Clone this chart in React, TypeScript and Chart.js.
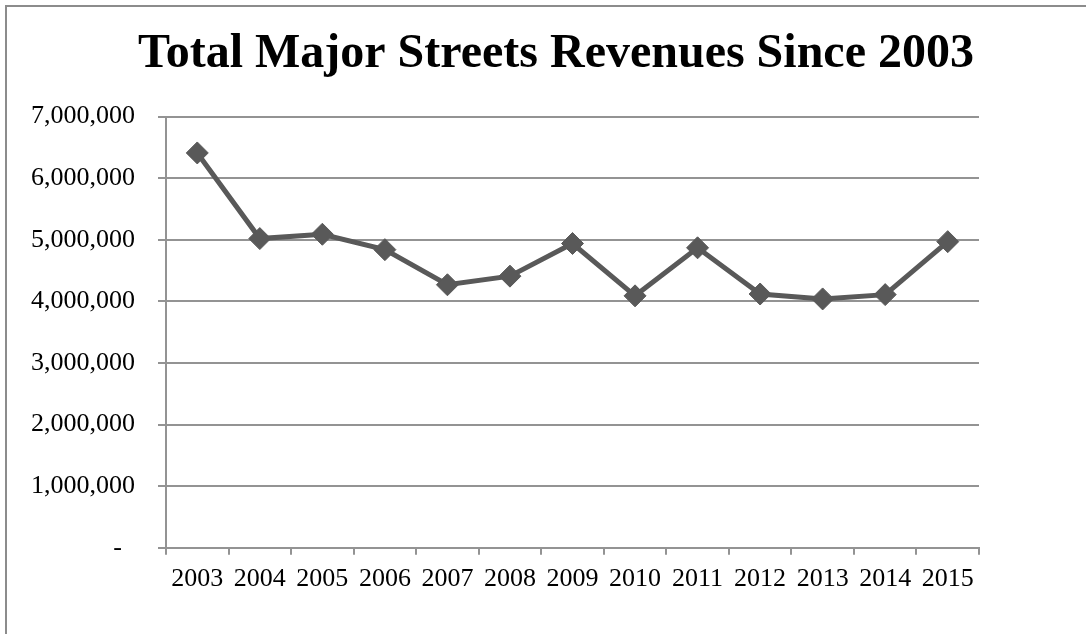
import React, { useEffect, useRef } from 'react';
import { Chart, registerables } from 'chart.js';

Chart.register(...registerables);

const titleText = 'Total Major Streets Revenues Since 2003';
const years = ['2003', '2004', '2005', '2006', '2007', '2008', '2009', '2010', '2011', '2012', '2013', '2014', '2015'];
const revenues = [6410000, 5020000, 5090000, 4840000, 4270000, 4410000, 4940000, 4090000, 4870000, 4120000, 4040000, 4110000, 4970000];
const yMin = 0;
const yMax = 7000000;
const yStep = 1000000;

const FONT = '"Liberation Serif", "Times New Roman", serif';
const GRID = '#939393';
const LINE = '#595959';

export default function App() {
  const ref = useRef<HTMLCanvasElement | null>(null);

  useEffect(() => {
    if (!ref.current) return;
    const chart = new Chart(ref.current, {
      type: 'line',
      data: {
        labels: years,
        datasets: [
          {
            data: revenues,
            yAxisID: 'y',
            borderColor: LINE,
            backgroundColor: LINE,
            borderWidth: 5,
            pointStyle: 'rectRot',
            pointRadius: 11,
            pointBorderWidth: 1,
            pointBackgroundColor: LINE,
            pointBorderColor: LINE,
            tension: 0,
          },
        ],
      },
      options: {
        animation: false,
        responsive: false,
        maintainAspectRatio: false,
        layout: { padding: { left: 26, right: 0, top: 0, bottom: 30 } },
        plugins: {
          legend: { display: false },
          tooltip: { enabled: false },
          title: {
            display: true,
            text: titleText,
            color: '#000',
            font: { family: FONT, size: 48, weight: 'bold' },
            padding: { top: 26, bottom: 33 },
          },
        },
        scales: {
          x: {
            offset: true,
            grid: {
              offset: true,
              drawOnChartArea: false,
              drawTicks: true,
              tickLength: 7,
              color: GRID,
              lineWidth: 2,
            },
            border: { display: true, color: GRID, width: 2 },
            ticks: {
              color: '#000',
              font: { family: FONT, size: 26 },
              padding: 9,
              maxRotation: 0,
              autoSkip: false,
            },
          },
          y: {
            position: 'left',
            min: yMin,
            max: yMax,
            afterFit: (scale: any) => {
              scale.width = 166 - 26;
            },
            grid: {
              color: GRID,
              lineWidth: 2,
              drawTicks: true,
              tickLength: 8,
            },
            border: { display: true, color: GRID, width: 2 },
            ticks: {
              stepSize: yStep,
              color: '#000',
              font: { family: FONT, size: 26 },
              padding: 23,
              callback: (v: any) => (Number(v) === 0 ? '-  ' : Number(v).toLocaleString('en-US')),
            },
          },
          spacer: {
            type: 'linear',
            position: 'right',
            display: true,
            afterFit: (scale: any) => {
              scale.width = 1086 - 979;
            },
            grid: { display: false, drawTicks: false },
            border: { display: false },
            ticks: { display: false },
          },
        },
      },
    });
    return () => chart.destroy();
  }, []);

  return (
    <div style={{ position: 'fixed', left: 0, top: 0, width: 1086, height: 634, overflow: 'hidden', background: '#fff' }}>
      <div
        style={{
          position: 'absolute',
          left: 5,
          top: 5,
          width: 1200,
          height: 800,
          border: '2px solid #8c8c8c',
          boxSizing: 'border-box',
        }}
      />
      <canvas ref={ref} width={1086} height={634} style={{ position: 'absolute', left: 0, top: 0, width: 1086, height: 634 }} />
    </div>
  );
}
